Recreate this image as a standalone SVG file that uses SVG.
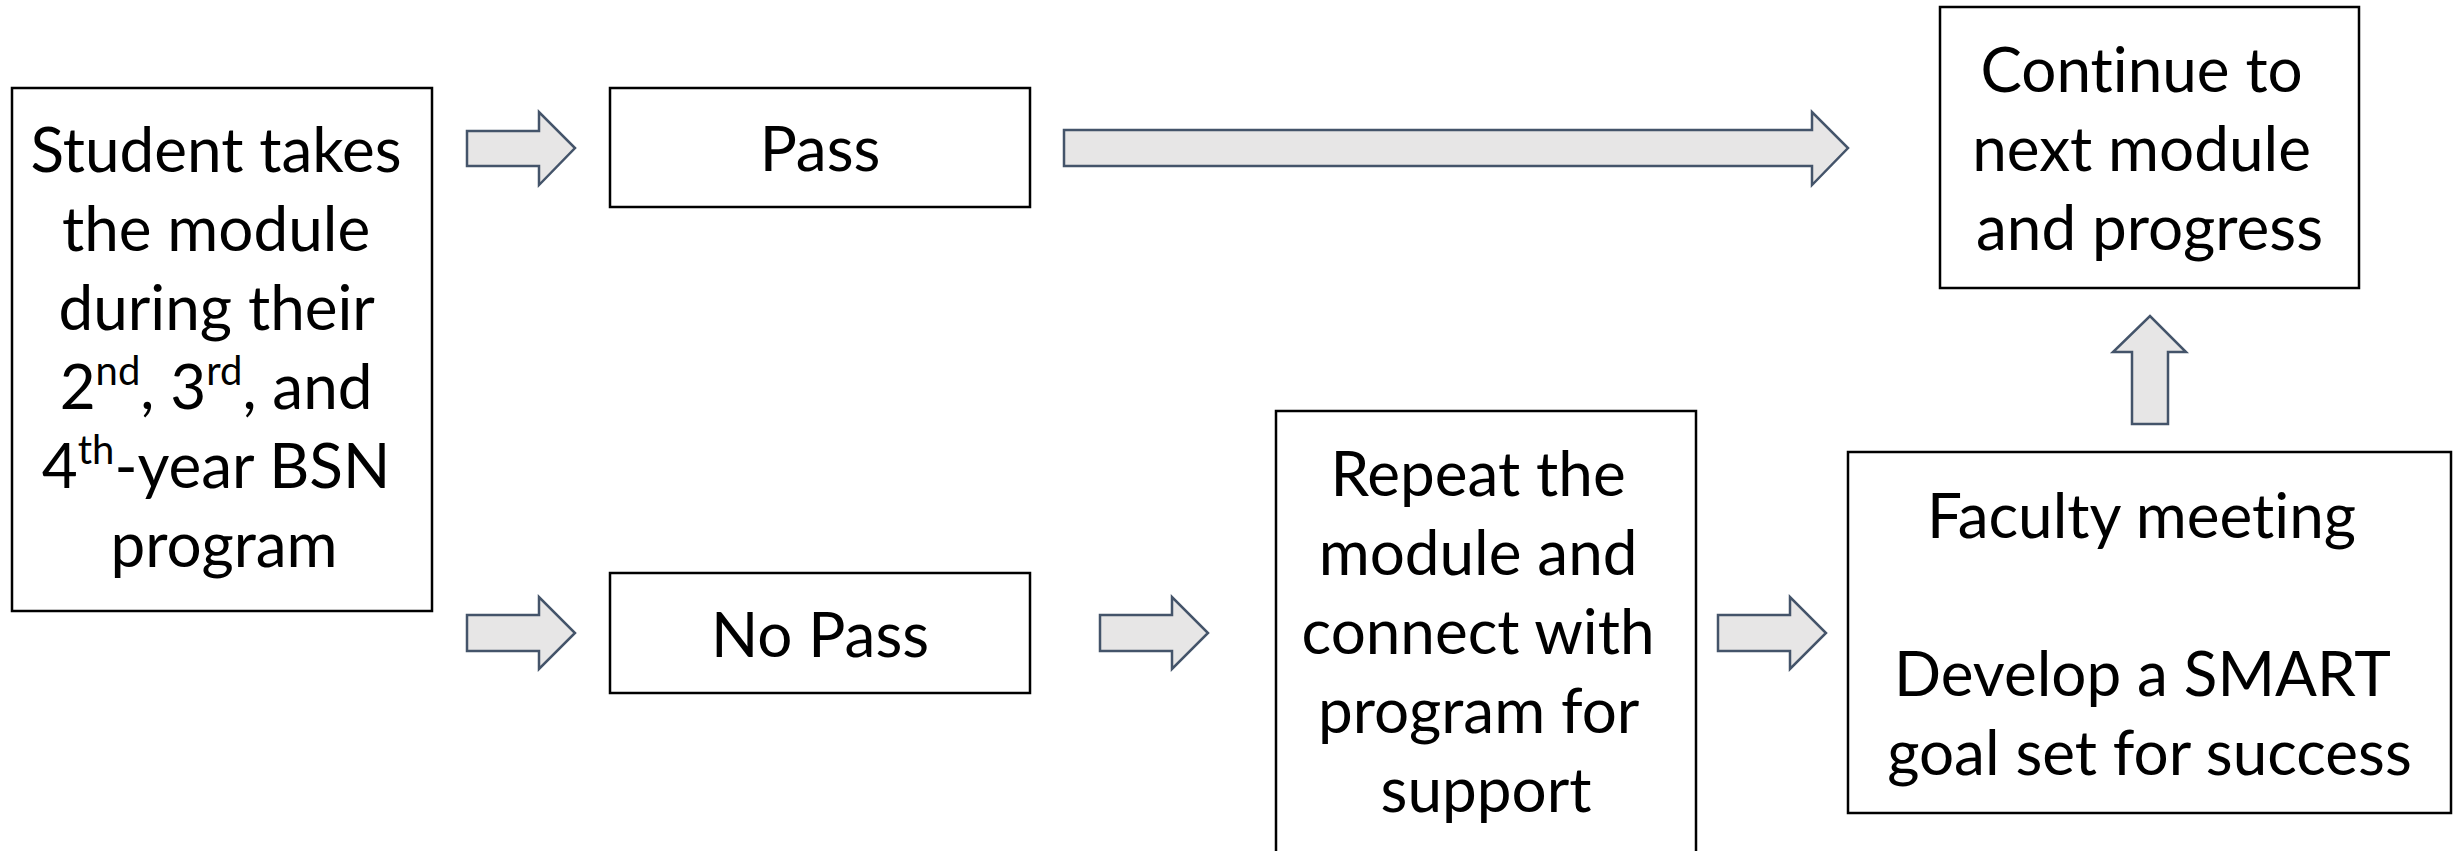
<svg xmlns="http://www.w3.org/2000/svg" width="2453" height="851" viewBox="0 0 2453 851">
  <style>
    .box { fill: #ffffff; stroke: #000000; stroke-width: 2.5; }
    .arrow { fill: #E7E6E6; stroke: #44546A; stroke-width: 2.5; stroke-linejoin: miter; }
    .label { font-family: Lato, "Open Sans", "Liberation Sans", sans-serif; font-size: 62px; fill: #000000; text-anchor: middle; font-variant-ligatures: none; }
    .sup { font-size: 40px; }
  </style>
  <rect width="2453" height="851" fill="#ffffff"/>

  <!-- block arrows between steps -->
  <g id="connectors">
    <!-- start to Pass -->
    <path class="arrow" d="M467,131 H539 V112 L575,148 L539,185 V166 H467 Z"/>
    <!-- start to No Pass -->
    <path class="arrow" d="M467,615 H539 V597 L575,633 L539,669 V651 H467 Z"/>
    <!-- Pass to Continue -->
    <path class="arrow" d="M1064,130 H1812 V112 L1848,148 L1812,185 V166 H1064 Z"/>
    <!-- No Pass to Repeat -->
    <path class="arrow" d="M1100,615 H1172 V597 L1208,633 L1172,669 V651 H1100 Z"/>
    <!-- Repeat to Faculty meeting -->
    <path class="arrow" d="M1718,615 H1790 V597 L1826,633 L1790,669 V651 H1718 Z"/>
    <!-- Faculty meeting up to Continue -->
    <path class="arrow" d="M2132,424 V352 H2113 L2150,316 L2186,352 H2168 V424 Z"/>
  </g>

  <g id="node-start">
    <rect class="box" x="12" y="88" width="420" height="523"/>
    <text class="label">
      <tspan x="224" y="172">Student takes</tspan>
      <tspan x="224" y="251">the module</tspan>
      <tspan x="224" y="330">during their</tspan>
      <tspan x="224" y="409">2<tspan class="sup" dy="-24">nd</tspan><tspan dy="24">, 3</tspan><tspan class="sup" dy="-24">rd</tspan><tspan dy="24">, and</tspan></tspan>
      <tspan x="224" y="488">4<tspan class="sup" dy="-24">th</tspan><tspan dy="24">-year BSN</tspan></tspan>
      <tspan x="224" y="567">program</tspan>
    </text>
  </g>

  <g id="node-pass">
    <rect class="box" x="610" y="88" width="420" height="119"/>
    <text class="label" x="820" y="171">Pass</text>
  </g>

  <g id="node-nopass">
    <rect class="box" x="610" y="573" width="420" height="120"/>
    <text class="label" x="820" y="657">No Pass</text>
  </g>

  <g id="node-continue">
    <rect class="box" x="1940" y="7" width="419" height="281"/>
    <text class="label">
      <tspan x="2149.5" y="92">Continue to</tspan>
      <tspan x="2149.5" y="171">next module</tspan>
      <tspan x="2149.5" y="250">and progress</tspan>
    </text>
  </g>

  <g id="node-repeat">
    <rect class="box" x="1276" y="411" width="420" height="470"/>
    <text class="label">
      <tspan x="1486" y="496">Repeat the</tspan>
      <tspan x="1486" y="575">module and</tspan>
      <tspan x="1486" y="654">connect with</tspan>
      <tspan x="1486" y="733">program for</tspan>
      <tspan x="1486" y="812">support</tspan>
    </text>
  </g>

  <g id="node-faculty">
    <rect class="box" x="1848" y="452" width="603" height="361"/>
    <text class="label">
      <tspan x="2149.5" y="538">Faculty meeting</tspan>
      <tspan x="2149.5" y="696">Develop a SMART</tspan>
      <tspan x="2149.5" y="775">goal set for success</tspan>
    </text>
  </g>
</svg>
